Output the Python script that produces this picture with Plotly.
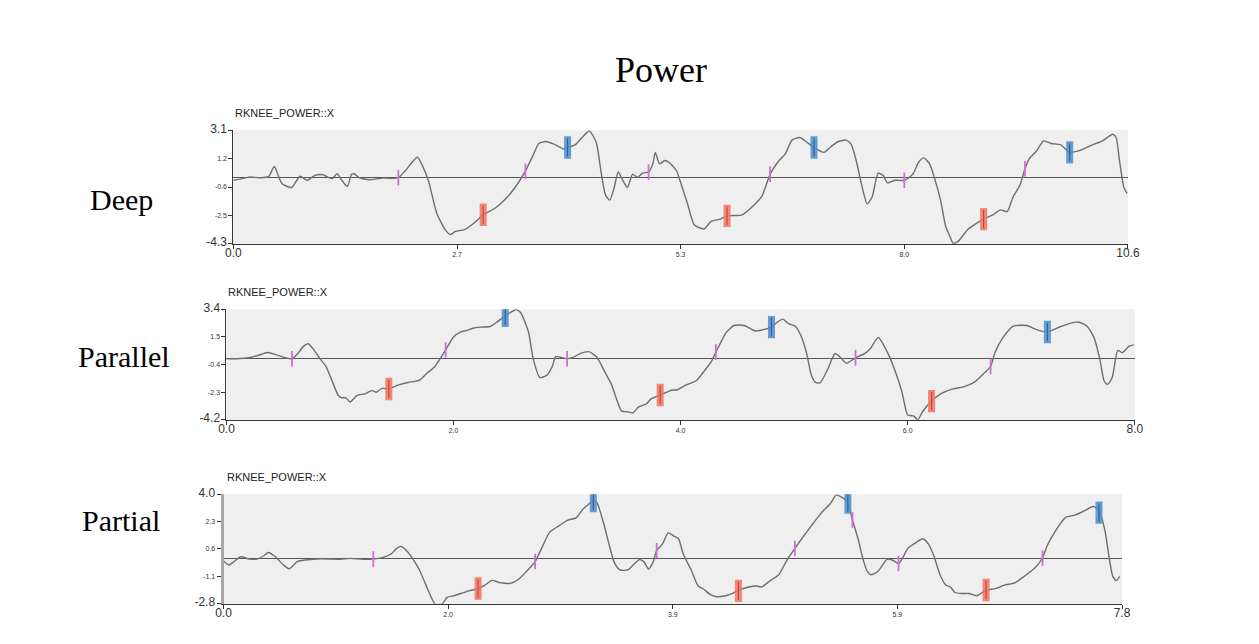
import plotly.graph_objects as go

# ---------------- data ----------------
panel_names = ["Deep", "Parallel", "Partial"]
signal_name = "RKNEE_POWER::X"

# Deep
deep_t = [0, 0.066, 0.184, 0.32, 0.42, 0.485, 0.575, 0.69, 0.79, 0.876, 0.966, 1.06, 1.17, 1.23, 1.28, 1.35,
          1.40, 1.43, 1.49, 1.61, 1.69, 1.77, 1.85, 1.955, 2.04, 2.18, 2.24, 2.31, 2.41, 2.51, 2.57, 2.63,
          2.74, 2.86, 2.96, 3.10, 3.25, 3.37, 3.46, 3.55, 3.62, 3.70, 3.80, 3.92, 3.96, 4.05, 4.13, 4.22,
          4.30, 4.32, 4.36, 4.41, 4.46, 4.51, 4.56, 4.61, 4.67, 4.73, 4.79, 4.85, 4.92, 4.97, 5.00, 5.05,
          5.11, 5.16, 5.25, 5.31, 5.38, 5.46, 5.53, 5.58, 5.66, 5.77, 5.85, 6.03, 6.15, 6.26, 6.36, 6.45,
          6.54, 6.62, 6.71, 6.80, 6.88, 7.00, 7.08, 7.17, 7.26, 7.32, 7.38, 7.45, 7.51, 7.57, 7.64, 7.70,
          7.75, 7.84, 7.95, 8.05, 8.12, 8.18, 8.25, 8.31, 8.38, 8.44, 8.49, 8.53, 8.59, 8.70, 8.81, 8.89,
          9.00, 9.09, 9.17, 9.24, 9.32, 9.38, 9.43, 9.52, 9.60, 9.69, 9.80, 9.91, 10.02, 10.17, 10.30,
          10.42, 10.46, 10.50, 10.55, 10.59]
deep_v = [-0.16, -0.10, 0.05, 0.01, 0.10, 0.74, -0.37, -0.63, 0.10, -0.16, 0.16, 0.20, -0.05, 0.27, -0.12, -0.55,
          0.23, 0.27, 0.01, -0.12, -0.07, -0.01, -0.03, 0.01, 0.48, 1.34, 0.80, -0.16, -2.31, -3.38, -3.70, -3.49,
          -3.38, -2.91, -2.41, -1.98, -1.23, -0.37, 0.44, 1.45, 2.24, 2.37, 2.20, 1.88, 1.98, 2.15, 2.63, 3.05,
          2.31, 1.77, 0.27, -1.13, -1.45, -0.70, 0.38, -0.12, -0.63, 0.23, 0.05, 0.31, 0.38, 0.91, 1.66, 0.91,
          1.13, 1.02, 0.48, -0.48, -1.66, -3.06, -3.27, -3.33, -2.84, -2.69, -2.48, -2.41, -1.88, -1.23, 0.23, 1.02,
          1.56, 2.46, 2.63, 2.31, 1.98, 1.66, 2.03, 2.37, 2.46, 2.20, 1.13, -0.59, -1.70, -1.23, 0.31, 0.16,
          -0.33, -0.16, -0.16, 0.23, 1.02, 1.30, 0.91, -0.05, -1.45, -3.16, -3.81, -4.28, -4.13, -3.38, -2.95, -2.69,
          -2.41, -2.09, -2.20, -1.23, -0.48, 0.59, 1.23, 1.77, 2.41, 2.24, 2.16, 1.66, 1.77, 2.13, 2.41,
          2.84, 2.63, 1.13, -0.59, -1.02]
deep_red_t = [2.96, 5.85, 8.89]
deep_red_v = [-2.41, -2.48, -2.69]
deep_blue_t = [3.96, 6.88, 9.91]
deep_blue_v = [1.98, 1.98, 1.66]
deep_mark_t = [1.955, 3.46, 4.92, 6.36, 7.95, 9.38]
deep_mark_v = [0.01, 0.44, 0.38, 0.23, -0.16, 0.59]
deep_xticks = [0, 2.65, 5.3, 7.95, 10.6]
deep_xlabels = ["0.0", "2.7", "5.3", "8.0", "10.6"]
deep_yticks = [-4.3, -2.45, -0.6, 1.25, 3.1]
deep_ylabels = ["-4.3", "-2.5", "-0.6", "1.2", "3.1"]

# Parallel
par_t = [0, 0.09, 0.21, 0.28, 0.36, 0.44, 0.51, 0.577, 0.63, 0.68, 0.72, 0.77, 0.83, 0.875, 0.93, 0.985,
         1.015, 1.05, 1.09, 1.15, 1.22, 1.28, 1.32, 1.37, 1.43, 1.51, 1.60, 1.70, 1.77, 1.83, 1.89, 1.93,
         2.00, 2.06, 2.12, 2.17, 2.24, 2.32, 2.38, 2.455, 2.51, 2.55, 2.59, 2.66, 2.70, 2.76, 2.82, 2.87,
         2.90, 2.95, 3.00, 3.05, 3.11, 3.19, 3.26, 3.33, 3.39, 3.44, 3.48, 3.53, 3.58, 3.63, 3.70, 3.74,
         3.82, 3.92, 3.97, 4.05, 4.14, 4.21, 4.27, 4.31, 4.35, 4.40, 4.47, 4.56, 4.66, 4.74, 4.80, 4.85,
         4.90, 4.95, 5.01, 5.06, 5.11, 5.15, 5.19, 5.23, 5.30, 5.36, 5.41, 5.46, 5.54, 5.62, 5.67, 5.74,
         5.79, 5.84, 5.91, 5.95, 6.00, 6.05, 6.09, 6.13, 6.21, 6.29, 6.39, 6.49, 6.58, 6.66, 6.73, 6.77,
         6.84, 6.93, 7.05, 7.13, 7.23, 7.32, 7.42, 7.51, 7.58, 7.64, 7.69, 7.73, 7.76, 7.80, 7.85, 7.89,
         7.95, 7.99]
par_v = [0.0, 0.0, 0.09, 0.23, 0.43, 0.27, 0.09, 0.0, 0.38, 0.87, 1.03, 0.61, -0.06, -0.51, -1.52, -2.52,
         -2.68, -2.68, -2.97, -2.52, -2.41, -2.19, -2.30, -2.03, -2.08, -1.81, -1.63, -1.47, -0.96, -0.58, 0.09, 0.61,
         1.50, 1.84, 1.95, 2.10, 2.18, 2.22, 2.51, 2.95, 3.22, 3.38, 3.18, 1.84, 0.05, -1.29, -1.14, -0.51,
         0.16, 0.09, 0.0, 0.09, 0.34, 0.49, 0.13, -0.87, -1.76, -2.87, -3.60, -3.64, -3.71, -3.31, -3.09, -2.76,
         -2.49, -2.16, -2.13, -1.80, -1.49, -0.82, -0.20, 0.47, 1.07, 1.80, 2.29, 2.29, 1.91, 2.02, 2.18, 2.51,
         2.73, 2.42, 2.24, 1.58, 0.36, -1.09, -1.64, -1.64, -0.64, 0.36, 0.07, -0.31, 0.07, 0.36, 0.69, 1.47,
         0.91, 0.13, -1.31, -2.31, -3.87, -3.93, -4.18, -3.64, -2.91, -2.42, -2.09, -1.93, -1.64, -1.09, -0.53, 0.47,
         1.47, 2.24, 2.29, 2.02, 1.84, 2.13, 2.42, 2.51, 2.24, 1.47, 0.04, -1.53, -1.76, -1.31, 0.58, 0.42,
         0.87, 0.96]
par_red_t = [1.43, 3.82, 6.21]
par_red_v = [-2.08, -2.49, -2.91]
par_blue_t = [2.455, 4.80, 7.23]
par_blue_v = [2.95, 2.18, 1.84]
par_mark_t = [0.577, 1.93, 3.00, 4.31, 5.54, 6.73]
par_mark_v = [0.0, 0.61, 0.0, 0.47, 0.07, -0.53]
par_xticks = [0, 2.0, 4.0, 6.0, 8.0]
par_xlabels = ["0.0", "2.0", "4.0", "6.0", "8.0"]
par_yticks = [-4.2, -2.3, -0.4, 1.5, 3.4]
par_ylabels = ["-4.2", "-2.3", "-0.4", "1.5", "3.4"]

# Partial
part_t = [0, 0.05, 0.09, 0.15, 0.22, 0.29, 0.35, 0.39, 0.45, 0.52, 0.57, 0.64, 0.71, 0.81, 0.92, 1.01,
          1.10, 1.21, 1.30, 1.38, 1.46, 1.50, 1.54, 1.585, 1.64, 1.70, 1.76, 1.81, 1.84, 1.90, 1.94, 2.00,
          2.06, 2.13, 2.21, 2.26, 2.33, 2.40, 2.49, 2.56, 2.63, 2.705, 2.76, 2.83, 2.91, 2.99, 3.06, 3.12,
          3.18, 3.21, 3.24, 3.30, 3.35, 3.39, 3.44, 3.51, 3.55, 3.61, 3.65, 3.69, 3.73, 3.76, 3.81, 3.86,
          3.91, 3.95, 3.99, 4.06, 4.12, 4.17, 4.22, 4.28, 4.36, 4.42, 4.47, 4.56, 4.63, 4.67, 4.74, 4.82,
          4.89, 4.96, 5.04, 5.12, 5.19, 5.27, 5.32, 5.37, 5.42, 5.46, 5.51, 5.55, 5.59, 5.62, 5.68, 5.72,
          5.76, 5.81, 5.86, 5.90, 5.94, 6.01, 6.07, 6.12, 6.17, 6.22, 6.27, 6.31, 6.35, 6.41, 6.47, 6.54,
          6.62, 6.70, 6.78, 6.87, 6.95, 7.04, 7.11, 7.15, 7.22, 7.31, 7.39, 7.47, 7.55, 7.60, 7.65, 7.69,
          7.72, 7.75, 7.78]
part_v = [-0.14, -0.39, -0.18, 0.12, -0.02, -0.02, 0.18, 0.38, 0.12, -0.39, -0.63, -0.18, -0.08, -0.02, -0.02, -0.04,
          0.02, -0.04, -0.02, 0.06, 0.32, 0.62, 0.76, 0.52, 0.02, -0.69, -1.69, -2.50, -2.84, -2.80, -2.40, -2.30,
          -2.16, -2.00, -1.85, -1.69, -1.35, -1.49, -1.53, -1.29, -0.79, -0.18, 0.62, 1.63, 2.03, 2.39, 2.53, 3.07,
          3.44, 3.62, 3.50, 2.20, 0.80, -0.20, -0.70, -0.70, -0.44, -0.06, -0.20, -0.64, -0.20, 0.50, 0.90, 1.60,
          1.40, 1.24, 0.30, -0.70, -1.70, -1.90, -2.20, -2.36, -2.30, -2.16, -1.96, -1.76, -1.70, -1.76, -1.40, -1.00,
          -0.10, 0.64, 1.44, 2.20, 2.84, 3.44, 3.96, 3.80, 3.50, 2.40, 1.20, 0.00, -0.80, -1.00, -0.80, -0.40,
          -0.04, -0.10, -0.30, 0.10, 0.64, 1.00, 1.24, 0.90, 0.10, -1.00, -1.64, -1.76, -2.10, -2.16, -2.16, -2.30,
          -1.96, -1.86, -1.64, -1.50, -1.10, -0.60, 0.04, 0.80, 1.70, 2.56, 2.70, 2.96, 3.24, 3.00, 1.80, 0.00,
          -1.10, -1.36, -1.10]
part_red_t = [2.21, 4.47, 6.62]
part_red_v = [-1.85, -2.00, -1.94]
part_blue_t = [3.21, 5.42, 7.60]
part_blue_v = [3.58, 3.48, 2.86]
part_mark_t = [1.30, 2.705, 3.76, 4.96, 5.46, 5.86, 7.11]
part_mark_v = [-0.02, -0.18, 0.50, 0.64, 2.40, -0.30, 0.04]
part_xticks = [0, 1.95, 3.9, 5.85, 7.8]
part_xlabels = ["0.0", "2.0", "3.9", "5.9", "7.8"]
part_yticks = [-2.8, -1.1, 0.6, 2.3, 4.0]
part_ylabels = ["-2.8", "-1.1", "0.6", "2.3", "4.0"]

# ---------------- layout helpers ----------------
W, H = 1259, 644
panels = [
    dict(t=deep_t, v=deep_v, rt=deep_red_t, rv=deep_red_v, bt=deep_blue_t, bv=deep_blue_v,
         mt=deep_mark_t, mv=deep_mark_v, xt=deep_xticks, xl=deep_xlabels, yt=deep_yticks, yl=deep_ylabels,
         box=(229, 1138, 124, 240), label_xy=(229, 106), name_xy=(115, 195), yline=("#333", 1)),
    dict(t=par_t, v=par_v, rt=par_red_t, rv=par_red_v, bt=par_blue_t, bv=par_blue_v,
         mt=par_mark_t, mv=par_mark_v, xt=par_xticks, xl=par_xlabels, yt=par_yticks, yl=par_ylabels,
         box=(222, 1145, 307, 420), label_xy=(222, 289), name_xy=(118, 355), yline=("#333", 1)),
    dict(t=part_t, v=part_v, rt=part_red_t, rv=part_red_v, bt=part_blue_t, bv=part_blue_v,
         mt=part_mark_t, mv=part_mark_v, xt=part_xticks, xl=part_xlabels, yt=part_yticks, yl=part_ylabels,
         box=(219, 1132, 496, 608), label_xy=(220, 478), name_xy=(115, 523), yline=("#A8A8A8", 3)),
]


def big(s):
    return '<span style="font-size:12px">' + s + '</span>'


fig = go.Figure()
annotations = []
for i, p in enumerate(panels):
    n = "" if i == 0 else str(i + 1)
    xa, ya = "x" + n, "y" + n
    fig.add_trace(go.Scatter(x=p["t"], y=p["v"], mode="lines", xaxis=xa, yaxis=ya,
                             line=dict(color="#6e6e6e", width=1.4, shape="spline", smoothing=0.6),
                             hoverinfo="skip"))
    fig.add_trace(go.Scatter(x=p["mt"], y=p["mv"], mode="markers", xaxis=xa, yaxis=ya,
                             marker=dict(symbol="line-ns", size=11, line=dict(color="#d86ad8", width=1.8))))
    for tt, vv, c, ci in ((p["rt"], p["rv"], "rgba(244,118,100,0.88)", "#b8403a"),
                          (p["bt"], p["bv"], "rgba(80,145,205,0.88)", "#2a5a98")):
        fig.add_trace(go.Scatter(x=tt, y=vv, mode="markers", xaxis=xa, yaxis=ya,
                                 marker=dict(symbol="line-ns", size=16, line=dict(color=c, width=7))))
        fig.add_trace(go.Scatter(x=tt, y=vv, mode="markers", xaxis=xa, yaxis=ya,
                                 marker=dict(symbol="line-ns", size=13, line=dict(color=ci, width=1))))
    x0, x1, y0, y1 = p["box"]
    xl = [big(s) if k in (0, len(p["xl"]) - 1) else s for k, s in enumerate(p["xl"])]
    yl = [big(s) if k in (0, len(p["yl"]) - 1) else s for k, s in enumerate(p["yl"])]
    fig.update_layout(**{
        "xaxis" + n: dict(domain=[x0 / W, x1 / W], range=[p["xt"][0], p["xt"][-1]], anchor=ya,
                          tickvals=p["xt"], ticktext=xl, tickfont=dict(size=7, color="#333",
                                                                      family="Liberation Sans, Arial"),
                          ticks="outside", ticklen=4, tickcolor="#333", showline=True, linecolor="#333",
                          linewidth=1, showgrid=False, zeroline=False),
        "yaxis" + n: dict(domain=[1 - y1 / H, 1 - y0 / H], range=[p["yt"][0], p["yt"][-1]], anchor=xa,
                          tickvals=p["yt"], ticktext=yl, tickfont=dict(size=7, color="#333",
                                                                      family="Liberation Sans, Arial"),
                          ticks="outside", ticklen=4, tickcolor="#333", showline=True,
                          linecolor=p["yline"][0], linewidth=p["yline"][1], showgrid=False,
                          zeroline=True, zerolinecolor="#555", zerolinewidth=1.3),
    })
    lx, ly = p["label_xy"]
    annotations.append(dict(text=signal_name, x=lx / W, y=1 - ly / H, xref="paper", yref="paper",
                            xanchor="left", yanchor="middle", showarrow=False,
                            font=dict(size=11, color="#222", family="Liberation Sans, Arial")))
    nx, ny = p["name_xy"]
    annotations.append(dict(text=panel_names[i], x=nx / W, y=1 - ny / H, xref="paper", yref="paper",
                            xanchor="center", yanchor="middle", showarrow=False,
                            font=dict(size=30, color="#000", family="Liberation Serif, Times New Roman")))

annotations.append(dict(text="Power", x=664 / W, y=1 - 62 / H, xref="paper", yref="paper",
                        xanchor="center", yanchor="middle", showarrow=False,
                        font=dict(size=36, color="#000", family="Liberation Serif, Times New Roman")))

fig.update_layout(autosize=True, margin=dict(l=0, r=0, t=0, b=0, pad=0),
                  paper_bgcolor="white", plot_bgcolor="#efefef", showlegend=False,
                  annotations=annotations, hovermode=False)

fig.write_html("out.html", default_width="100vw", default_height="100vh",
               config={"displayModeBar": False, "responsive": True},
               post_script="document.body.style.margin='0';document.body.style.overflow='hidden';"
                           "window.dispatchEvent(new Event('resize'));")
